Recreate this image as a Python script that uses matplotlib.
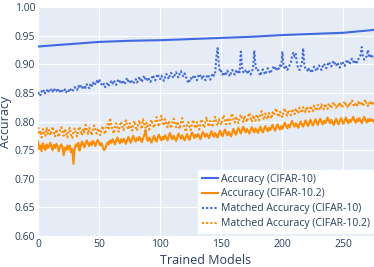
import numpy as np
import matplotlib
matplotlib.use("Agg")
import matplotlib.pyplot as plt

# ---------------- data (accuracy in thousandths) ----------------
acc_c10_x = [0, 25, 50, 75, 100, 125, 150, 175, 200, 225, 250, 275]
acc_c10 = [931, 935, 939, 941, 942, 944, 946, 948, 951, 953, 955, 960]

matched_c10 = [
    848, 851, 846, 853, 850, 855, 849, 852, 857, 851,
    854, 856, 852, 858, 853, 855, 851, 857, 853, 850,
    854, 852, 856, 851, 855, 853, 858, 855, 852, 856,
    860, 857, 855, 862, 858, 864, 860, 856, 863, 859,
    865, 861, 858, 866, 862, 868, 863, 867, 871, 866,
    874, 869, 865, 862, 866, 860, 864, 868, 863, 867,
    870, 866, 872, 868, 864, 870, 874, 869, 866, 872,
    868, 865, 871, 876, 870, 867, 873, 869, 866, 870,
    874, 868, 872, 878, 873, 869, 876, 880, 874, 871,
    877, 873, 869, 875, 881, 876, 872, 878, 883, 877,
    874, 880, 876, 871, 877, 883, 879, 874, 881, 885,
    879, 876, 882, 886, 880, 877, 884, 888, 882, 879,
    884, 878, 873, 867, 871, 876, 873, 878, 881, 876,
    872, 878, 883, 879, 875, 881, 876, 872, 878, 882,
    877, 873, 879, 884, 880, 886, 912, 928, 900, 886,
    888, 882, 886, 880, 884, 889, 883, 879, 885, 890,
    886, 882, 888, 884, 890, 886, 922, 895, 886, 890,
    888, 884, 890, 886, 882, 887, 893, 924, 897, 889,
    890, 885, 880, 887, 891, 886, 882, 888, 893, 889,
    884, 888, 892, 897, 893, 889, 895, 892, 898, 894,
    921, 897, 892, 896, 890, 894, 899, 903, 915, 920,
    913, 918, 900, 893, 890, 896, 900, 928, 898, 891,
    891, 887, 893, 889, 885, 891, 896, 892, 888, 894,
    898, 894, 890, 896, 901, 897, 893, 899, 904, 900,
    896, 902, 906, 901, 897, 903, 898, 894, 900, 905,
    901, 897, 903, 908, 904, 900, 906, 910, 905, 901,
    907, 903, 908, 912, 916, 930, 912, 908, 910, 914,
    925, 912, 915, 911, 916, 914,
]

acc_c102 = [
    765, 752, 758, 748, 762, 755, 750, 760, 754, 757,
    763, 756, 750, 759, 754, 761, 757, 748, 755, 760,
    756, 741, 754, 750, 758, 751, 758, 746, 752, 726,
    754, 760, 756, 763, 749, 758, 765, 760, 755, 762,
    767, 761, 757, 764, 759, 766, 762, 757, 764, 768,
    763, 758, 762, 756, 750, 753, 758, 764, 760, 767,
    763, 769, 765, 760, 767, 772, 766, 762, 769, 764,
    770, 766, 761, 768, 773, 767, 763, 770, 775, 768,
    765, 771, 767, 773, 769, 764, 771, 776, 785, 770,
    766, 772, 768, 763, 770, 775, 769, 765, 772, 777,
    771, 767, 773, 769, 776, 772, 767, 774, 780, 773,
    769, 775, 771, 766, 773, 779, 774, 770, 776, 771,
    767, 773, 778, 772, 768, 775, 781, 776, 771, 777,
    773, 778, 774, 769, 776, 782, 777, 773, 779, 775,
    771, 778, 783, 777, 773, 780, 776, 772, 779, 784,
    778, 774, 781, 786, 780, 776, 782, 778, 774, 781,
    787, 781, 777, 783, 789, 784, 779, 786, 791, 785,
    781, 787, 783, 779, 785, 790, 785, 781, 788, 784,
    780, 786, 791, 785, 781, 787, 792, 787, 783, 789,
    785, 790, 794, 788, 784, 790, 795, 790, 786, 792,
    787, 793, 798, 792, 788, 794, 790, 796, 801, 795,
    791, 797, 793, 789, 795, 800, 795, 791, 797, 802,
    796, 792, 798, 803, 797, 793, 799, 804, 798, 794,
    800, 805, 799, 795, 801, 797, 802, 807, 801, 797,
    803, 798, 794, 800, 805, 799, 795, 801, 806, 800,
    796, 802, 807, 801, 797, 803, 799, 804, 808, 802,
    798, 804, 800, 806, 801, 797, 803, 808, 802, 798,
    804, 800, 805, 801, 803, 799,
]

matched_c102 = [
    790, 778, 784, 772, 787, 781, 775, 789, 779, 785,
    776, 783, 791, 780, 774, 786, 779, 773, 784, 790,
    781, 775, 787, 779, 772, 783, 789, 777, 771, 782,
    788, 780, 774, 785, 791, 783, 776, 787, 781, 794,
    784, 778, 789, 782, 776, 787, 793, 785, 779, 788,
    782, 776, 786, 792, 783, 778, 789, 796, 788, 806,
    793, 785, 779, 790, 797, 788, 782, 793, 800, 791,
    785, 795, 802, 792, 786, 797, 791, 784, 794, 801,
    790, 784, 795, 802, 793, 787, 804, 796, 789, 798,
    792, 786, 797, 803, 794, 789, 800, 808, 797, 791,
    802, 810, 799, 793, 804, 797, 790, 801, 795, 788,
    799, 805, 796, 790, 800, 794, 787, 798, 806, 795,
    789, 782, 793, 799, 791, 785, 796, 803, 794, 788,
    799, 792, 786, 797, 804, 795, 789, 800, 807, 796,
    791, 801, 796, 790, 802, 808, 798, 793, 804, 799,
    794, 805, 811, 800, 795, 806, 801, 796, 808, 814,
    803, 798, 809, 803, 797, 807, 812, 804, 799, 810,
    805, 799, 809, 815, 806, 800, 811, 805, 801, 812,
    807, 802, 813, 818, 808, 803, 814, 809, 804, 815,
    810, 805, 816, 811, 818, 823, 812, 808, 817, 813,
    808, 818, 823, 814, 810, 820, 815, 811, 822, 817,
    813, 823, 818, 814, 824, 819, 815, 825, 820, 816,
    826, 821, 817, 827, 822, 818, 828, 823, 819, 829,
    824, 820, 830, 825, 821, 831, 826, 822, 832, 827,
    823, 829, 834, 828, 824, 830, 826, 833, 828, 824,
    830, 835, 829, 825, 831, 827, 833, 837, 830, 826,
    832, 828, 834, 829, 835, 831, 827, 833, 838, 831,
    827, 833, 829, 835, 831, 836,
]

labels = ["Accuracy (CIFAR-10)", "Accuracy (CIFAR-10.2)",
          "Matched Accuracy (CIFAR-10)", "Matched Accuracy (CIFAR-10.2)"]
x_ticks = [0, 50, 100, 150, 200, 250]
y_ticks = [0.60, 0.65, 0.70, 0.75, 0.80, 0.85, 0.90, 0.95, 1.00]

# ---------------- plot ----------------
plt.rcParams['font.family'] = ['Open Sans', 'DejaVu Sans']
BLUE = "#4169E1"
ORANGE = "#FF8C00"
TXT = "#2a3f5f"

fig = plt.figure(figsize=(3.74, 2.67), dpi=100)
ax = fig.add_axes([38 / 374, 31 / 267, 336 / 374, 229 / 267])
ax.set_facecolor("#E5ECF6")

n = len(matched_c10)
xs = np.arange(n)
ax.plot(acc_c10_x, np.array(acc_c10) / 1000, color=BLUE, lw=1.5,
        label=labels[0], zorder=3)
ax.plot(np.arange(len(acc_c102)), np.array(acc_c102) / 1000, color=ORANGE,
        lw=1.5, label=labels[1], zorder=3)
ax.plot(xs, np.array(matched_c10) / 1000, color=BLUE, lw=1.5,
        ls=(0, (1, 1)), label=labels[2], zorder=3)
ax.plot(np.arange(len(matched_c102)), np.array(matched_c102) / 1000,
        color=ORANGE, lw=1.5, ls=(0, (1, 1)), label=labels[3], zorder=3)

ax.set_xlim(0, n - 1)
ax.set_ylim(0.60, 1.00)
ax.set_xticks(x_ticks)
ax.set_yticks(y_ticks)
ax.set_yticklabels([f"{v:.2f}" for v in y_ticks])
ax.grid(True, color="white", lw=0.8, zorder=0)
ax.set_axisbelow(True)
for s in ax.spines.values():
    s.set_visible(False)
ax.tick_params(length=0, labelsize=7.5, labelcolor=TXT, pad=2)
ax.set_xlabel("Trained Models", fontsize=9, color=TXT, labelpad=3)
ax.set_ylabel("Accuracy", fontsize=9, color=TXT, labelpad=2)

leg = ax.legend(loc="lower right", bbox_to_anchor=(1.0, 0.013),
                fontsize=7.5, frameon=True, fancybox=False,
                handlelength=1.55, handletextpad=0.35, labelspacing=0.38,
                borderpad=0.35, borderaxespad=0)
leg.get_frame().set_facecolor("white")
leg.get_frame().set_edgecolor("white")
leg.get_frame().set_alpha(1)
for t in leg.get_texts():
    t.set_color(TXT)

fig.savefig("out.png", dpi=100, facecolor="white")
